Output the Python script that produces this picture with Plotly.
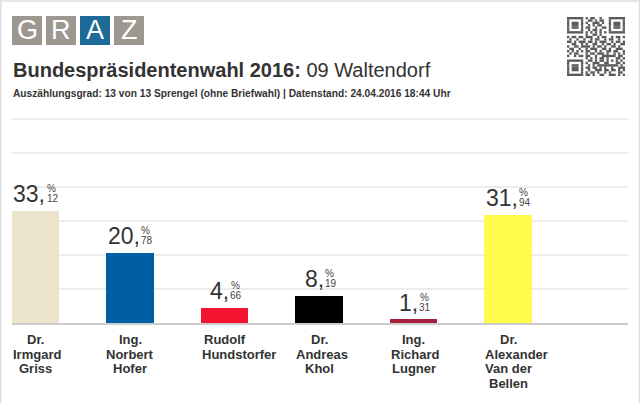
import plotly.graph_objects as go

# ---------------- data ----------------
candidates = [
    "Dr.<br>Irmgard<br>Griss",
    "Ing.<br>Norbert<br>Hofer",
    "Rudolf<br>Hundstorfer",
    "Dr.<br>Andreas<br>Khol",
    "Ing.<br>Richard<br>Lugner",
    "Dr.<br>Alexander<br>Van der<br>Bellen",
]
values = [33.12, 20.78, 4.66, 8.19, 1.31, 31.94]
bar_colors = ["#ebe3ca", "#005ea3", "#f31431", "#000000", "#a31f3a", "#fffb4a"]
title_bold = "Bundespräsidentenwahl 2016:"
title_regular = "09 Waltendorf"
subtitle = "Auszählungsgrad: 13 von 13 Sprengel (ohne Briefwahl) | Datenstand: 24.04.2016 18:44 Uhr"
logo_letters = ["G", "R", "A", "Z"]
logo_colors = ["#9c9890", "#9c9890", "#1b6a98", "#9c9890"]
qr_rows = [
    "#######.#.##..#...#######",
    "#.....#..##.#.##..#.....#",
    "#.###.#.#..###.#..#.###.#",
    "#.###.#..#.#.##...#.###.#",
    "#.###.#.##..#..##.#.###.#",
    "#.....#..#.##.#...#.....#",
    "#######.#.#.#.#.#.#######",
    "........#..##.#..........",
    "#.##.##.###..#.##..#.##.#",
    ".#..#..#..#.##..#.##..#..",
    "##.#.###.##.#.###..#.##.#",
    "..##..#.#..##..#.##.#..##",
    "#..##.####.#.##.#..##.#..",
    ".##..#..#.###..##.#..###.",
    "#.#.#.#.##..#.#..##.##..#",
    ".#.##...#.##.###.#..#.#.#",
    "#..#.##.##..#..######.##.",
    "........#.#.#.##.#...##.#",
    "#######..##.#.##.#.#.#.#.",
    "#.....#.#..###..##...##.#",
    "#.###.#..#.#.#########.#.",
    "#.###.#.##.##.#.#..#..###",
    "#.###.#..#..###.##.##.#.#",
    "#.....#.#.##.#..#.#...##.",
    "#######.##.#..##..###.#.#",
]

W, H = 640, 403
FONT = "Liberation Sans, Arial, sans-serif"
TXT = "#333333"
BAR_W = 0.5
BAR_PX = 47
LABEL_SIZE = 13
Y_MAX = 61
PX_PER_UNIT = 3.4

# approximate Arial Bold advance widths (per em) for label-width estimation
BOLD_W = {" ": .278, ".": .278, "A": .722, "B": .722, "D": .722, "G": .778, "H": .722,
          "I": .278, "K": .722, "L": .611, "N": .722, "R": .722, "V": .667,
          "a": .556, "b": .611, "c": .556, "d": .611, "e": .556, "f": .333, "g": .611,
          "h": .611, "i": .278, "l": .278, "m": .889, "n": .611, "o": .611, "r": .389,
          "s": .556, "t": .333, "u": .611, "x": .556}


def text_px(s, size):
    return sum(BOLD_W.get(ch, .556) for ch in s) * size


def px(x):
    return x / W


def py(y):
    return 1 - y / H


fig = go.Figure(
    go.Bar(
        x=list(range(len(values))),
        y=values,
        width=BAR_W,
        marker=dict(color=bar_colors, line=dict(width=0)),
        hoverinfo="skip",
    )
)

annotations = []
shapes = []

# percentage labels
for i, v in enumerate(values):
    whole, dec = f"{v:.2f}".split(".")
    big_right = 6.7 + 5.0 * (len(whole) - 1)
    annotations.append(dict(x=i, y=v, xref="x", yref="y", text=whole + ",",
                            showarrow=False, xanchor="right", yanchor="middle",
                            xshift=big_right, yshift=16,
                            font=dict(family=FONT, size=23, color=TXT)))
    annotations.append(dict(x=i, y=v, xref="x", yref="y", text=dec,
                            showarrow=False, xanchor="left", yanchor="middle",
                            xshift=big_right - 2.8, yshift=11.5,
                            font=dict(family=FONT, size=10, color="#444444")))
    annotations.append(dict(x=i, y=v, xref="x", yref="y", text="%",
                            showarrow=False, xanchor="left", yanchor="middle",
                            xshift=big_right - 2.4, yshift=21.5,
                            font=dict(family=FONT, size=10, color="#444444")))

# candidate names: centred under the bar, overflowing words start at the bar's left edge
for i, name in enumerate(candidates):
    for k, line in enumerate(name.split("<br>")):
        if text_px(line, LABEL_SIZE) > BAR_PX:
            xa, xv, xs = "left", i - BAR_W / 2, -1
        else:
            xa, xv, xs = "center", i, 0
        annotations.append(dict(x=xv, y=py(344 + 14.5 * k - 4.5), xref="x", yref="paper",
                                text="<b>" + line + "</b>", showarrow=False,
                                xanchor=xa, xshift=xs, yanchor="middle",
                                font=dict(family=FONT, size=LABEL_SIZE, color=TXT)))

# title & subtitle
annotations.append(dict(x=px(11), y=py(70), xref="paper", yref="paper",
                        text="<b>" + title_bold + "</b> " + title_regular,
                        showarrow=False, xanchor="left", yanchor="middle",
                        font=dict(family=FONT, size=20, color=TXT)))
annotations.append(dict(x=px(11), y=py(93.4), xref="paper", yref="paper",
                        text="<b>" + subtitle + "</b>",
                        showarrow=False, xanchor="left", yanchor="middle",
                        font=dict(family=FONT, size=10.2, color=TXT)))

# logo
for j, (letter, col) in enumerate(zip(logo_letters, logo_colors)):
    x0 = 12 + 34 * j
    shapes.append(dict(type="rect", xref="paper", yref="paper",
                       x0=px(x0), x1=px(x0 + 30), y0=py(45), y1=py(16),
                       fillcolor=col, line=dict(width=0)))
    annotations.append(dict(x=px(x0 + 15), y=py(30.5), xref="paper", yref="paper",
                            text=letter, showarrow=False, xanchor="center", yanchor="middle",
                            font=dict(family=FONT, size=27, color="white")))

# QR code (decorative)
qx0, qy0, qw, qh = 567, 17, 58, 59
n = 25
mw, mh = qw / n, qh / n
for r, row in enumerate(qr_rows):
    row = row.ljust(n, ".")[:n]
    c = 0
    while c < n:
        if row[c] == "#":
            s = c
            while c < n and row[c] == "#":
                c += 1
            shapes.append(dict(type="rect", xref="paper", yref="paper",
                               x0=px(qx0 + s * mw), x1=px(qx0 + c * mw),
                               y0=py(qy0 + (r + 1) * mh), y1=py(qy0 + r * mh),
                               fillcolor="#5a5a5a", line=dict(width=0)))
        else:
            c += 1

# frame
for (x0, y0, x1, y1) in [(0, 1, 640, 1), (0.75, 0, 0.75, 403), (639.5, 0, 639.5, 403)]:
    shapes.append(dict(type="line", xref="paper", yref="paper",
                       x0=px(x0), x1=px(x1), y0=py(y0), y1=py(y1),
                       line=dict(color="#dedede", width=1.5)))

fig.update_layout(
    width=W, height=H,
    margin=dict(l=0, r=0, t=0, b=0),
    paper_bgcolor="white", plot_bgcolor="white",
    showlegend=False,
    bargap=0,
    xaxis=dict(domain=[px(12), px(628)], range=[-0.25, 6.27],
               showgrid=False, zeroline=False, showticklabels=False, ticks="",
               showline=True, linecolor="#cccccc", linewidth=1.5, fixedrange=True),
    yaxis=dict(domain=[80 / H, (80 + Y_MAX * PX_PER_UNIT) / H], range=[0, Y_MAX], dtick=10,
               showgrid=True, gridcolor="#ececec", gridwidth=1.5,
               zeroline=False, showticklabels=False, ticks="", fixedrange=True),
    annotations=annotations,
    shapes=shapes,
)

fig.write_html("out.html", config={"displayModeBar": False})
